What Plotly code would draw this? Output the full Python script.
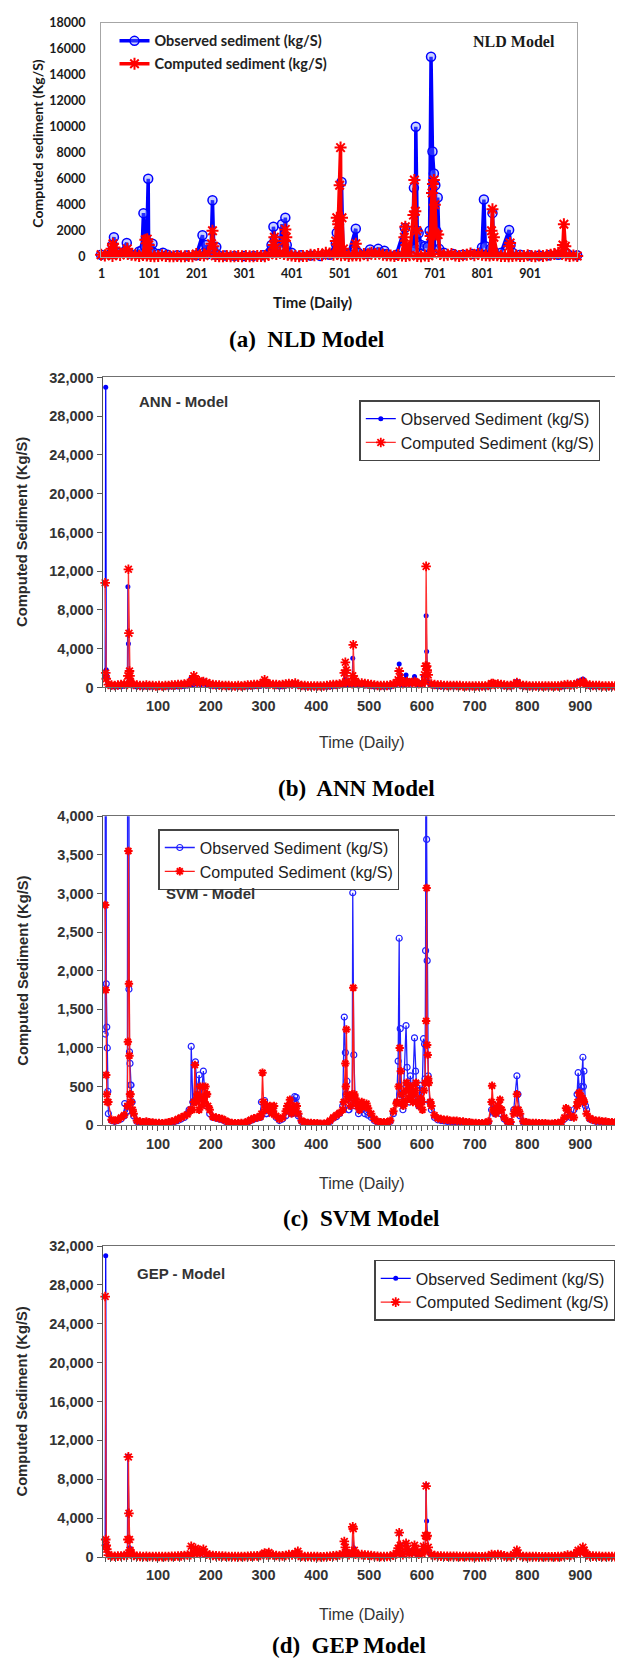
import plotly.graph_objects as go

# page body has a default 8px margin: the figure is drawn from (8, 8)
OFF = 8
W, H = 615, 1661

# ---------------- (a) NLD model data ----------------
NLD_OBS_STEP = 20
NLD_OBS_BASE = [150, 200, 300, 250, 400, 300, 200, 150, 100, 80,
                100, 200, 150, 80, 60, 50, 60, 100, 300, 400,
                300, 100, 80, 60, 150, 300, 200, 300, 200, 300,
                200, 150, 400, 600, 700, 500, 300, 200, 150, 200,
                300, 200, 300, 200, 150, 100, 80, 100, 150, 200,
                100]
NLD_OBS_PEAK_DAYS = [24, 27, 30, 54, 57, 86, 89, 92, 96, 99, 102, 108, 111, 130,
                     213, 216, 221, 224, 231, 234, 237, 242, 245,
                     358, 362, 365, 368, 376, 380, 384, 387, 390,
                     493, 495, 499, 505, 508, 535, 538, 565, 582, 595,
                     638, 642, 650, 654, 657, 661, 664, 667, 672, 680, 686, 690,
                     693, 696, 699, 702, 704, 707, 710,
                     800, 804, 807, 818, 822, 825, 857, 860, 864, 975]
NLD_OBS_PEAK_VALUES = [900, 1500, 400, 1050, 300, 500, 3350, 800, 1200, 6000, 500, 1000, 300, 300,
                       1650, 300, 900, 200, 600, 4350, 300, 750, 150,
                       900, 2300, 1350, 400, 800, 2500, 1200, 3000, 900,
                       1000, 1850, 600, 5750, 400, 2150, 300, 550, 600, 450,
                       2200, 300, 650, 400, 5300, 10000, 2000, 1800, 900, 800, 750, 2000,
                       15400, 8100, 6400, 5500, 2000, 4550, 600,
                       700, 4400, 800, 600, 3350, 400, 2050, 900, 300, 300]

NLD_CMP_STEP = 8
NLD_CMP_BASE = [150, 80, 200, 60, 250, 120, 300, 200, 150, 100,
                60, 120, 80, 50, 40, 60, 100, 60, 40, 30,
                50, 40, 30, 60, 40, 200, 120, 80, 300, 150,
                60, 40, 30, 50, 40, 30, 60, 40, 50, 30,
                40, 60, 50, 40, 150, 300, 200, 300, 200, 150,
                80, 60, 40, 50, 60, 150, 100, 200, 100, 300,
                250, 150, 200, 100, 150, 60, 80, 100, 80, 200,
                100, 300, 200, 250, 150, 100, 80, 60, 120, 80,
                60, 100, 60, 50, 40, 80, 60, 250, 300, 200,
                100, 150, 200, 80, 60, 100, 150, 250, 100, 200,
                150, 100, 80, 120, 100, 60, 50, 40, 60, 80,
                60, 50, 100, 60, 40, 80, 60, 100, 150, 200,
                300, 200, 100, 60, 80, 50]
NLD_CMP_PEAK_DAYS = [22, 25, 28, 55, 93, 97, 100, 232, 234, 236, 362, 364, 366,
                     385, 387, 389, 493, 495, 498, 501, 503, 506, 509, 535,
                     637, 639, 641, 656, 658, 660, 663, 692, 695, 697, 699, 701, 704, 708,
                     820, 822, 825, 857, 859, 970, 972, 975]
NLD_CMP_PEAK_VALUES = [600, 1000, 700, 600, 1300, 1350, 900, 1000, 2000, 800, 900, 1500, 700,
                       1200, 2100, 1500, 1200, 3000, 2500, 5500, 8400, 3000, 600, 1000,
                       1500, 2300, 900, 3200, 5900, 3500, 2000, 1600, 4900, 5600, 5900, 4000, 1700, 1700,
                       2000, 3650, 1500, 800, 1050, 900, 2500, 800]

NLD_XTICKS = [1, 101, 201, 301, 401, 501, 601, 701, 801, 901]

# ---------------- (b)(c)(d) observed data (shared) ----------------
STEP = 6
OBS_BASE = [440, 150, 60, 50, 60, 80, 120, 180, 520, 120,
            50, 40, 35, 40, 30, 30, 25, 25, 20, 25,
            30, 40, 50, 60, 80, 100, 150, 200, 300, 400,
            300, 380, 250, 150, 100, 90, 80, 70, 50, 35,
            25, 20, 20, 25, 25, 40, 60, 80, 90, 100,
            200, 150, 200, 180, 100, 60, 80, 120, 200, 150,
            300, 120, 50, 35, 30, 25, 20, 20, 15, 15,
            25, 50, 90, 110, 150, 250, 400, 200, 350, 250,
            150, 200, 150, 130, 100, 60, 40, 35, 35, 35,
            50, 150, 300, 400, 200, 400, 300, 350, 400, 250,
            300, 600, 500, 200, 100, 70, 60, 55, 50, 50,
            45, 45, 40, 40, 35, 30, 25, 25, 20, 20,
            25, 40, 200, 150, 200, 150, 80, 40, 35, 200,
            400, 120, 40, 30, 25, 25, 25, 20, 20, 20,
            15, 15, 20, 25, 35, 80, 150, 100, 200, 400,
            450, 500, 200, 80, 60, 50, 50, 40, 40, 35,
            35, 30, 25, 25]
OBS_PEAK_DAYS = [0, 1, 2, 3, 4, 5,
                 37, 41, 43, 44, 45, 46, 47, 49, 51,
                 159, 163, 166, 171, 174, 178, 181, 186, 189, 192,
                 296, 302, 305, 359, 362, 365,
                 453, 455, 458, 461, 469, 471, 473,
                 555, 557, 559, 561, 570, 572, 575, 578, 586, 588, 591, 596, 600,
                 603, 605, 607, 608, 609, 610, 612, 615,
                 735, 780, 782, 896, 899, 902, 905, 907, 910]
OBS_PEAK_VALUES = [1180, 31000, 1830, 1270, 1000, 440,
                   280, 180, 10400, 4500, 1760, 950, 800, 520, 300,
                   200, 1020, 300, 820, 400, 650, 300, 700, 380, 250,
                   300, 320, 150, 370, 360, 150,
                   1400, 940, 570, 200, 3010, 910, 300,
                   830, 2420, 1250, 400, 1290, 750, 400, 640, 1130, 700, 300, 520, 300,
                   1120, 1050, 2260, 7400, 3700, 2130, 640, 300,
                   270, 640, 400, 680, 400, 500, 880, 700, 250]

# ANN computed
ANN_BASE = [600, 300, 250, 200, 250, 300, 350, 300, 600, 300,
            250, 200, 200, 250, 200, 200, 150, 200, 150, 200,
            200, 250, 250, 300, 300, 350, 400, 500, 600, 500,
            500, 450, 500, 350, 300, 250, 250, 200, 200, 200,
            150, 150, 200, 150, 200, 250, 250, 300, 300, 350,
            500, 400, 350, 300, 300, 250, 300, 350, 400, 350,
            450, 300, 200, 200, 150, 150, 150, 150, 150, 150,
            200, 250, 300, 300, 350, 400, 600, 450, 400, 500,
            400, 450, 400, 350, 300, 250, 200, 200, 200, 200,
            250, 350, 450, 600, 400, 500, 450, 500, 500, 400,
            400, 600, 600, 350, 300, 250, 250, 200, 200, 200,
            200, 200, 200, 150, 150, 150, 150, 150, 150, 150,
            150, 200, 400, 300, 350, 300, 250, 200, 200, 300,
            500, 300, 200, 200, 150, 150, 150, 150, 150, 150,
            150, 150, 150, 150, 200, 250, 300, 250, 250, 400,
            500, 450, 300, 250, 200, 200, 200, 150, 150, 150,
            150, 150, 150, 150]
ANN_PEAK_DAYS = [0, 1, 2, 43, 44, 45, 46, 47, 48, 166, 168, 171, 178, 186,
                 300, 302, 304, 453, 455, 457, 469, 470, 472, 555, 557, 559, 572, 586,
                 605, 607, 608, 609, 610, 612, 735, 750, 780, 905]
ANN_PEAK_VALUES = [10800, 1500, 900, 1200, 12200, 5600, 1700, 1200, 600, 900, 1200, 900, 700, 600,
                   500, 800, 400, 1500, 2600, 1800, 1200, 4400, 900, 800, 1700, 1000, 600, 600,
                   1300, 2200, 12500, 2200, 1800, 1300, 400, 300, 500, 600]

# SVM computed
SVM_BASE = [300, 300, 70, 60, 70, 100, 130, 170, 400, 150,
            60, 50, 40, 50, 40, 35, 30, 30, 25, 30,
            40, 50, 60, 80, 100, 120, 140, 200, 300, 350,
            400, 350, 400, 200, 110, 100, 90, 80, 60, 40,
            30, 25, 25, 30, 30, 50, 70, 90, 100, 110,
            300, 250, 230, 180, 130, 80, 100, 180, 250, 180,
            220, 150, 60, 40, 30, 30, 25, 25, 20, 20,
            30, 60, 100, 130, 160, 200, 500, 350, 300, 350,
            250, 300, 250, 220, 150, 80, 50, 40, 40, 40,
            60, 180, 280, 500, 300, 450, 350, 400, 450, 300,
            300, 500, 600, 250, 130, 90, 80, 70, 70, 60,
            60, 60, 50, 50, 40, 40, 30, 30, 25, 25,
            30, 50, 300, 180, 250, 200, 100, 50, 40, 150,
            400, 150, 50, 40, 30, 30, 30, 25, 25, 25,
            20, 20, 25, 30, 40, 100, 200, 120, 100, 250,
            380, 320, 150, 90, 70, 60, 60, 50, 50, 40,
            40, 35, 30, 30]
SVM_PEAK_DAYS = [0, 1, 2, 3, 4, 42, 43, 44, 45, 46, 47, 49, 52,
                 165, 168, 170, 172, 175, 178, 180, 183, 185, 188, 190, 193, 195,
                 296, 298, 300, 303, 309, 312, 316, 320, 324,
                 345, 350, 353, 357, 360, 363,
                 452, 455, 457, 459, 465, 468, 470, 472, 475, 478, 482, 486, 490, 495,
                 553, 556, 558, 560, 562, 565, 568, 571, 574, 577, 580, 583, 586, 589,
                 592, 595, 598, 601, 604, 606, 608, 609, 610, 611, 613, 616,
                 733, 736, 740, 745, 748, 751, 777, 780, 783,
                 873, 876, 895, 898, 901, 904, 907]
SVM_PEAK_VALUES = [2850, 1750, 650, 400, 300, 250, 1080, 3550, 1830, 900, 400, 300, 200,
                   200, 300, 780, 300, 400, 200, 500, 250, 500, 300, 500, 400, 250,
                   150, 680, 300, 200, 200, 250, 150, 250, 120,
                   250, 330, 150, 250, 200, 250,
                   300, 800, 1240, 400, 250, 400, 1780, 400, 300, 250, 200, 300, 250, 280,
                   300, 500, 1000, 700, 400, 250, 300, 550, 450, 350, 500, 300, 400, 550,
                   300, 250, 350, 200, 450, 550, 1350, 3070, 1040, 910, 550, 300,
                   510, 200, 150, 250, 330, 200, 200, 400, 200,
                   220, 200, 300, 420, 380, 350, 300]

# GEP computed
GEP_BASE = [500, 200, 100, 80, 90, 110, 150, 200, 500, 150,
            80, 70, 60, 70, 60, 60, 50, 50, 40, 50,
            60, 70, 80, 100, 120, 150, 200, 250, 350, 400,
            350, 400, 300, 200, 150, 120, 110, 100, 80, 60,
            50, 40, 40, 50, 50, 70, 90, 110, 120, 150,
            250, 200, 250, 200, 150, 100, 120, 150, 250, 200,
            350, 150, 80, 60, 50, 50, 40, 40, 30, 30,
            50, 80, 120, 150, 200, 300, 450, 250, 400, 300,
            200, 250, 200, 180, 150, 100, 70, 60, 60, 60,
            80, 200, 350, 450, 250, 450, 350, 400, 450, 300,
            350, 650, 550, 250, 150, 100, 90, 80, 80, 70,
            70, 70, 60, 60, 50, 50, 40, 40, 35, 35,
            40, 60, 250, 200, 250, 200, 120, 60, 50, 250,
            450, 150, 60, 50, 40, 40, 40, 35, 35, 35,
            30, 30, 35, 40, 50, 100, 200, 150, 250, 450,
            500, 550, 250, 120, 90, 80, 80, 60, 60, 50,
            50, 45, 40, 40]
GEP_PEAK_DAYS = [0, 1, 2, 3, 43, 44, 45, 46, 47, 163, 171, 178, 186, 302, 310, 365,
                 453, 455, 469, 470, 472, 555, 557, 559, 570, 572, 586, 588,
                 603, 607, 608, 609, 610, 612, 780, 896, 905, 907]
GEP_PEAK_VALUES = [26800, 1800, 1200, 800, 1800, 10300, 4500, 1800, 700, 1100, 900, 700, 800, 400, 450, 600,
                   1600, 1000, 3100, 2900, 700, 900, 2500, 1200, 1400, 800, 1200, 800,
                   1100, 2200, 7300, 2100, 2200, 1000, 700, 700, 1000, 700]

BCD_XTICKS = [100, 200, 300, 400, 500, 600, 700, 800, 900]
BCD_MINOR = list(range(0, 990, 10))


def merge(step, base, peak_days, peak_vals):
    pts = {step * i: v for i, v in enumerate(base)}
    for d, v in zip(peak_days, peak_vals):
        pts[d] = v
    days = sorted(pts)
    return days, [pts[d] for d in days]


def py(px):
    return 1 - (px - OFF) / H


def pxx(px):
    return (px - OFF) / W


LATO = "Lato, 'Open Sans', sans-serif"
ARIAL = "'Liberation Sans', Arial, sans-serif"
TIMES = "'Liberation Serif', 'Times New Roman', serif"

BLUE = "#0000ff"
RED = "#ff0000"

fig = go.Figure()

# ---- (a)
ad, av = merge(NLD_OBS_STEP, NLD_OBS_BASE, NLD_OBS_PEAK_DAYS, NLD_OBS_PEAK_VALUES)
fig.add_trace(go.Scatter(x=ad, y=av, xaxis="x", yaxis="y", mode="lines+markers",
                         name="Observed sediment (kg/S)", legend="legend", legendgroup="a1",
                         line=dict(color=BLUE, width=3.5), cliponaxis=False,
                         marker=dict(symbol="circle", size=9, color="rgba(110,130,255,0.35)",
                                     line=dict(color=BLUE, width=1.5))))
ad, av = merge(NLD_CMP_STEP, NLD_CMP_BASE, NLD_CMP_PEAK_DAYS, NLD_CMP_PEAK_VALUES)
fig.add_trace(go.Scatter(x=ad, y=av, xaxis="x", yaxis="y", mode="lines+markers",
                         name="Computed sediment (kg/S)", legend="legend", legendgroup="a2",
                         line=dict(color=RED, width=3.5), cliponaxis=False,
                         marker=dict(symbol="asterisk-open", size=10, color=RED,
                                     line=dict(color=RED, width=2))))

obs_d, obs_v = merge(STEP, OBS_BASE, OBS_PEAK_DAYS, OBS_PEAK_VALUES)

# ---- (b)
fig.add_trace(go.Scatter(x=obs_d, y=obs_v, xaxis="x2", yaxis="y2", mode="lines+markers",
                         name="Observed Sediment (kg/S)", legend="legend2",
                         line=dict(color=BLUE, width=1.3), cliponaxis=False,
                         marker=dict(symbol="circle", size=5, color=BLUE)))
bd, bv = merge(STEP, ANN_BASE, ANN_PEAK_DAYS, ANN_PEAK_VALUES)
fig.add_trace(go.Scatter(x=bd, y=bv, xaxis="x2", yaxis="y2", mode="lines+markers",
                         name="Computed Sediment (kg/S)", legend="legend2",
                         line=dict(color="#ff3030", width=1.3), cliponaxis=False,
                         marker=dict(symbol="asterisk-open", size=8, color=RED,
                                     line=dict(color=RED, width=1.8))))

# ---- (c)
fig.add_trace(go.Scatter(x=obs_d, y=obs_v, xaxis="x3", yaxis="y3", mode="lines+markers",
                         name="Observed Sediment (kg/S)", legend="legend3",
                         line=dict(color="#2020ff", width=1.3),
                         marker=dict(symbol="circle-open", size=6, color="#2020ff",
                                     line=dict(color="#2020ff", width=1.2))))
cd, cv = merge(STEP, SVM_BASE, SVM_PEAK_DAYS, SVM_PEAK_VALUES)
fig.add_trace(go.Scatter(x=cd, y=cv, xaxis="x3", yaxis="y3", mode="lines+markers",
                         name="Computed Sediment (kg/S)", legend="legend3",
                         line=dict(color="#ff1a1a", width=1.3),
                         marker=dict(symbol="asterisk-open", size=7, color=RED,
                                     line=dict(color=RED, width=2))))

# ---- (d)
fig.add_trace(go.Scatter(x=obs_d, y=obs_v, xaxis="x4", yaxis="y4", mode="lines+markers",
                         name="Observed Sediment (kg/S)", legend="legend4",
                         line=dict(color=BLUE, width=1.3), cliponaxis=False,
                         marker=dict(symbol="circle", size=5, color=BLUE)))
dd, dv = merge(STEP, GEP_BASE, GEP_PEAK_DAYS, GEP_PEAK_VALUES)
fig.add_trace(go.Scatter(x=dd, y=dv, xaxis="x4", yaxis="y4", mode="lines+markers",
                         name="Computed Sediment (kg/S)", legend="legend4",
                         line=dict(color="#ff2020", width=1.4), cliponaxis=False,
                         marker=dict(symbol="asterisk-open", size=8, color=RED,
                                     line=dict(color=RED, width=1.8))))

# ---------------- axes ----------------
a_tickfont = dict(family=LATO, size=12.5, color="#1a1a1a", weight=700)
bcd_tickfont = dict(family=ARIAL, size=14.5, color="#333333", weight=700)

layout = dict(
    width=W, height=H, margin=dict(l=0, r=0, t=0, b=0),
    plot_bgcolor="white", paper_bgcolor="white", showlegend=True,
    xaxis=dict(domain=[pxx(98.5), pxx(577)], anchor="y", range=[0, 1000],
               tickmode="array", tickvals=NLD_XTICKS, ticktext=[str(v) for v in NLD_XTICKS],
               ticks="", showline=True, mirror=True, linecolor="#a6a6a6", linewidth=1,
               showgrid=False, zeroline=False, tickfont=a_tickfont, ticklabelstandoff=5),
    yaxis=dict(domain=[py(251), py(15)], anchor="x", range=[0, 18000], dtick=2000,
               tickformat="d", ticks="", showline=True, mirror=True, linecolor="#a6a6a6",
               linewidth=1, showgrid=False, zeroline=False, tickfont=a_tickfont,
               ticklabelstandoff=12),
)

panels = [("2", 373, 686, 32000, 4000), ("3", 816, 1128, 4000, 500), ("4", 1250, 1564, 32000, 4000)]
for k, top, bot, ymax, dt in panels:
    layout["xaxis" + k] = dict(
        domain=[pxx(100), 1.0], anchor="y" + k, range=[-5, 981],
        tickmode="array", tickvals=BCD_XTICKS, ticks="outside", ticklen=5, tickcolor="#555555",
        minor=dict(tickmode="array", tickvals=BCD_MINOR, ticks="outside", ticklen=4,
                   tickcolor="#555555", showgrid=False),
        showline=True, mirror=True, linecolor="#707070", linewidth=1,
        showgrid=False, zeroline=False, tickfont=bcd_tickfont)
    layout["yaxis" + k] = dict(
        domain=[py(bot), py(top)], anchor="x" + k, range=[0, ymax], dtick=dt,
        tickformat=",d", ticks="outside", ticklen=5, tickcolor="#555555",
        showline=True, linecolor="#555555", linewidth=1,
        showgrid=False, zeroline=False, tickfont=bcd_tickfont)

# ---------------- legends ----------------
layout["legend"] = dict(x=pxx(112), y=py(17), xanchor="left", yanchor="top",
                        bgcolor="rgba(0,0,0,0)", borderwidth=0, itemwidth=30,
                        traceorder="grouped", tracegroupgap=1,
                        font=dict(family=LATO, size=14.5, color="#222222", weight=700))
for name, lx, ly in [("legend2", 358, 396), ("legend3", 156, 829), ("legend4", 373, 1264)]:
    layout[name] = dict(x=pxx(lx), y=py(ly), xanchor="left", yanchor="top",
                        bgcolor="white", bordercolor="#444444", borderwidth=1.5, itemwidth=30,
                        font=dict(family=ARIAL, size=16, color="#222222"))

fig.update_layout(**layout)

# ---------------- annotations ----------------
ann = []


def add_text(text, x, y, font, xanchor="center", angle=0):
    ann.append(dict(text=text, x=pxx(x), y=py(y), xref="paper", yref="paper",
                    xanchor=xanchor, yanchor="middle", showarrow=False, font=font,
                    textangle=angle))


add_text("Computed sediment (Kg/S)", 35, 137, dict(family=LATO, size=14, color="#1a1a1a", weight=700), angle=-90)
add_text("Time (Daily)", 311, 297, dict(family=LATO, size=15, color="#1a1a1a", weight=700))
add_text("NLD Model", 513, 34, dict(family=TIMES, size=16, color="#1a1a1a", weight=700))
add_text("(a)  NLD Model", 305, 335, dict(family=TIMES, size=23, color="#000000", weight=700))

ytitle_font = dict(family=ARIAL, size=14.7, color="#2a2a2a", weight=700)
xtitle_font = dict(family=ARIAL, size=16, color="#333333")
label_font = dict(family=ARIAL, size=15, color="#333333", weight=700)
cap_font = dict(family=TIMES, size=23, color="#000000", weight=700)

add_text("Computed Sediment (Kg/S)", 19, 529, ytitle_font, angle=-90)
add_text("Time (Daily)", 361, 742, xtitle_font)
add_text("ANN - Model", 135, 397, label_font, xanchor="left")
add_text("(b)  ANN Model", 355, 788, cap_font)

add_text("Computed Sediment (Kg/S)", 20, 972, ytitle_font, angle=-90)
add_text("Time (Daily)", 361, 1187, xtitle_font)
add_text("SVM - Model", 162, 894, label_font, xanchor="left")
add_text("(c)  SVM Model", 360, 1222, cap_font)

add_text("Computed Sediment (Kg/S)", 19, 1407, ytitle_font, angle=-90)
add_text("Time (Daily)", 361, 1622, xtitle_font)
add_text("GEP - Model", 133, 1278, label_font, xanchor="left")
add_text("(d)  GEP Model", 348, 1653, cap_font)

fig.update_layout(annotations=ann)

fig.write_html("out.html")
